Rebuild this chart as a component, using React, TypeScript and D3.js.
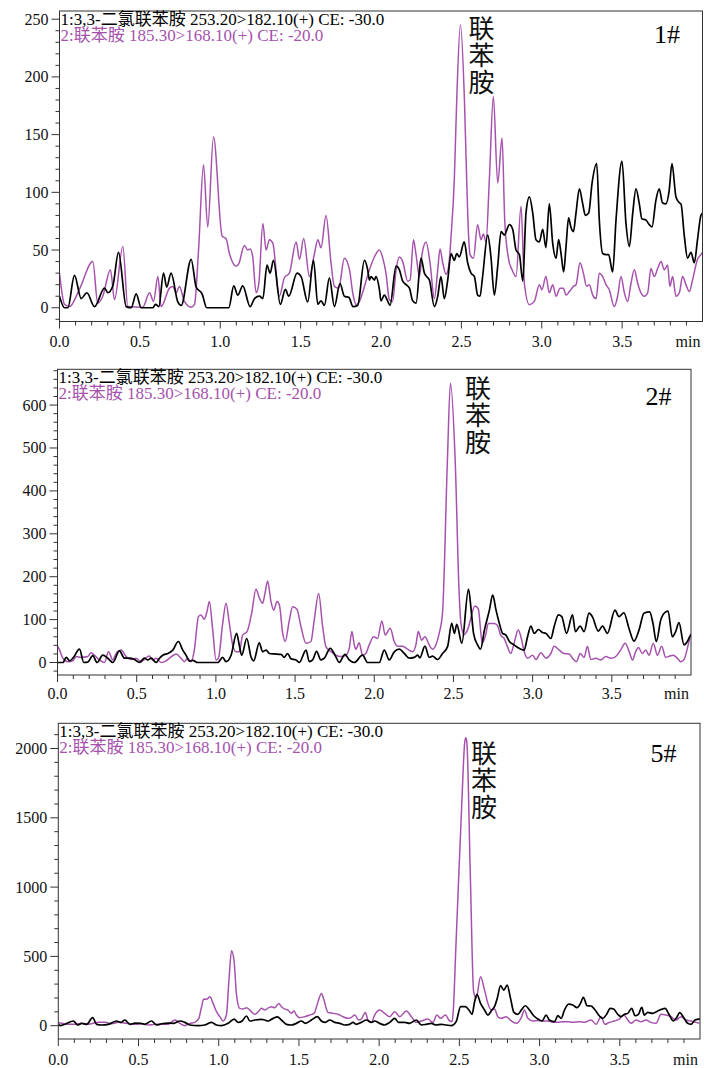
import React from "react";
import * as d3 from "d3";

type Pt = [number, number];

// Retention-time axis
const timeTicks = [0, 0.5, 1, 1.5, 2, 2.5, 3, 3.5];
const timeTickLabels = ["0.0", "0.5", "1.0", "1.5", "2.0", "2.5", "3.0", "3.5"];

// Intensity ticks per chromatogram
const p1YTicks = [0, 50, 100, 150, 200, 250];
const p2YTicks = [0, 100, 200, 300, 400, 500, 600];
const p3YTicks = [0, 500, 1000, 1500, 2000];

const legendBlack = "1:3,3-二氯联苯胺 253.20>182.10(+) CE: -30.0";
const legendPurple = "2:联苯胺 185.30>168.10(+) CE: -20.0";
const peakName = "联苯胺";
const sampleTags = ["1#", "2#", "5#"];

// Sample 1# — trace 1 (3,3'-dichlorobenzidine), [min, intensity]
const p1Black: Pt[] = [
  [0.0, 10], [0.031, 0], [0.052, 0], [0.093, 28], [0.135, 8], [0.17, 13], [0.218, 1], [0.28, 17], [0.301, 13],
  [0.332, 19], [0.367, 48], [0.415, 1], [0.446, 0], [0.477, 12], [0.508, 0], [0.58, 0], [0.597, 3], [0.618, 1],
  [0.647, 30], [0.667, 18], [0.694, 30], [0.736, 5], [0.757, 2], [0.819, 42], [0.85, 18], [0.887, 12], [0.916, 0],
  [1.053, 0], [1.084, 19], [1.109, 11], [1.14, 19], [1.186, 1], [1.213, 8], [1.244, 10], [1.265, 8], [1.291, 37],
  [1.31, 30], [1.331, 41], [1.374, 3], [1.405, 16], [1.426, 10], [1.478, 30], [1.503, 27], [1.544, 5], [1.58, 41],
  [1.607, 3], [1.627, 6], [1.648, 2], [1.679, 26], [1.71, 1], [1.745, 21], [1.772, 10], [1.8, 9], [1.826, 1],
  [1.855, 2], [1.897, 41], [1.917, 33], [1.928, 24], [1.938, 27], [1.959, 24], [1.969, 27], [1.99, 16], [2.0, 6],
  [2.021, 11], [2.041, 6], [2.056, 2], [2.094, 36], [2.114, 33], [2.135, 23], [2.156, 20], [2.177, 17], [2.197, 6],
  [2.218, 4], [2.249, 43], [2.27, 30], [2.284, 27], [2.301, 24], [2.332, 1], [2.353, 10], [2.373, 27], [2.394, 8],
  [2.415, 24], [2.436, 47], [2.456, 41], [2.471, 47], [2.487, 44], [2.518, 57], [2.539, 39], [2.56, 30], [2.581, 27],
  [2.601, 11], [2.616, 10], [2.632, 27], [2.664, 63], [2.684, 44], [2.705, 11], [2.726, 36], [2.747, 66], [2.767, 63],
  [2.799, 72], [2.819, 68], [2.84, 50], [2.861, 46], [2.882, 23], [2.902, 82], [2.923, 96], [2.944, 82], [2.964, 59],
  [2.985, 57], [3.006, 68], [3.026, 52], [3.047, 90], [3.068, 56], [3.089, 43], [3.105, 59], [3.12, 47], [3.136, 31],
  [3.151, 53], [3.167, 78], [3.181, 70], [3.197, 66], [3.213, 82], [3.234, 103], [3.255, 90], [3.271, 80], [3.292, 82],
  [3.313, 108], [3.342, 125], [3.358, 76], [3.379, 47], [3.4, 46], [3.416, 46], [3.441, 31], [3.462, 76], [3.499, 127],
  [3.524, 73], [3.545, 53], [3.566, 82], [3.586, 103], [3.607, 90], [3.623, 77], [3.648, 76], [3.669, 72], [3.686, 70],
  [3.71, 93], [3.731, 103], [3.751, 91], [3.772, 90], [3.793, 102], [3.81, 125], [3.835, 96], [3.856, 91], [3.866, 90],
  [3.887, 62], [3.907, 43], [3.928, 48], [3.949, 39], [3.969, 59], [3.99, 80], [4.0, 82],
];

// Sample 1# — trace 2 (benzidine)
const p1Purple: Pt[] = [
  [0.0, 30], [0.031, 3], [0.062, 1], [0.124, 16], [0.207, 40], [0.238, 4], [0.269, 10], [0.317, 33], [0.342, 7],
  [0.394, 53], [0.425, 1], [0.518, 0.5], [0.56, 13], [0.585, 5.5], [0.612, 27], [0.632, 1], [0.684, 17], [0.705, 18.5],
  [0.726, 13], [0.746, 18.5], [0.777, 5.5], [0.819, 0.5], [0.84, 3], [0.865, 50], [0.896, 124], [0.922, 70],
  [0.958, 148], [1.012, 62], [1.036, 60], [1.057, 47], [1.078, 39], [1.099, 36], [1.115, 38], [1.15, 54], [1.171, 50],
  [1.186, 51], [1.202, 44], [1.223, 13], [1.24, 21], [1.265, 73], [1.285, 50], [1.306, 59], [1.327, 56], [1.368, 10],
  [1.399, 26], [1.43, 30], [1.472, 57], [1.493, 42], [1.519, 60], [1.555, 27], [1.586, 47], [1.607, 59], [1.627, 52],
  [1.658, 80], [1.689, 39], [1.71, 18.5], [1.737, 17], [1.772, 43], [1.804, 33], [1.824, 13], [1.845, 2.6],
  [1.866, 5.5], [1.897, 18.5], [1.928, 33], [1.959, 44], [1.99, 50], [2.011, 43], [2.031, 30], [2.052, 7], [2.072, 5.5],
  [2.094, 33], [2.114, 44], [2.135, 40], [2.166, 23], [2.181, 24], [2.202, 59], [2.218, 46], [2.239, 27], [2.256, 47],
  [2.28, 57], [2.305, 39], [2.332, 8], [2.353, 33], [2.367, 51], [2.384, 39], [2.405, 29], [2.421, 36], [2.436, 62],
  [2.456, 111], [2.471, 180], [2.494, 245], [2.519, 180], [2.533, 111], [2.545, 62], [2.554, 46], [2.575, 43],
  [2.601, 72], [2.622, 59], [2.637, 64], [2.653, 57], [2.674, 111], [2.699, 183], [2.726, 108], [2.753, 147],
  [2.77, 75], [2.794, 42], [2.815, 33], [2.84, 27], [2.871, 88], [2.892, 21], [2.923, 2.6], [2.954, 5.5], [2.985, 20],
  [3.001, 15.6], [3.026, 27], [3.047, 13], [3.068, 20], [3.089, 10], [3.114, 17], [3.134, 17], [3.151, 11], [3.172, 14],
  [3.197, 18.5], [3.213, 20], [3.238, 39], [3.259, 30], [3.279, 18.5], [3.296, 20], [3.317, 11], [3.338, 8], [3.358, 30],
  [3.379, 27], [3.4, 20], [3.42, 15.6], [3.451, 1], [3.472, 10], [3.493, 27], [3.514, 13], [3.534, 5.5], [3.555, 21],
  [3.576, 33], [3.597, 21], [3.617, 13], [3.638, 10], [3.659, 13], [3.679, 34], [3.7, 27], [3.721, 34], [3.742, 40],
  [3.762, 33], [3.783, 37], [3.797, 18.5], [3.814, 27], [3.835, 10], [3.856, 13], [3.876, 27], [3.897, 20], [3.918, 14],
  [3.938, 24], [3.969, 42], [3.99, 46], [4.0, 48],
];

// Sample 2# — trace 1
const p2Black: Pt[] = [
  [0.0, 0], [0.035, 0], [0.055, 12], [0.076, 4], [0.097, 10], [0.139, 31], [0.166, 0], [0.191, 1], [0.223, 16],
  [0.25, 0], [0.286, 17], [0.318, 10], [0.349, 0], [0.391, 27], [0.423, 10], [0.454, 10], [0.486, 7], [0.517, 0],
  [0.549, 10], [0.57, 6], [0.591, 10], [0.623, 0], [0.644, 10], [0.665, 17], [0.696, 21], [0.728, 29], [0.763, 49],
  [0.791, 29], [0.812, 17], [0.833, 3], [0.854, 5], [0.885, 0], [1.012, 0], [1.043, 12], [1.064, 2], [1.096, 17],
  [1.131, 68], [1.148, 40], [1.163, 17], [1.195, 56], [1.222, 13], [1.239, 4], [1.274, 46], [1.295, 25], [1.317, 29],
  [1.338, 21], [1.369, 20], [1.411, 19], [1.432, 12], [1.453, 21], [1.474, 9], [1.506, 6], [1.527, 0], [1.569, 29],
  [1.59, 2], [1.611, 6], [1.636, 26], [1.663, 6], [1.685, 10], [1.722, 33], [1.758, 13], [1.779, 0], [1.815, 19],
  [1.842, 6], [1.874, 0], [1.926, 17], [1.958, 0], [2.032, 0], [2.063, 29], [2.095, 6], [2.126, 25], [2.158, 31],
  [2.19, 21], [2.221, 10], [2.253, 12], [2.274, 17], [2.288, 11], [2.32, 38], [2.347, 12], [2.368, 15], [2.4, 7],
  [2.431, 21], [2.463, 37], [2.489, 91], [2.506, 68], [2.521, 89], [2.553, 45], [2.595, 171], [2.612, 122],
  [2.627, 68], [2.654, 40], [2.671, 31], [2.696, 76], [2.727, 122], [2.748, 157], [2.769, 122], [2.79, 91], [2.81, 68],
  [2.831, 64], [2.853, 49], [2.883, 41], [2.915, 33], [2.946, 29], [2.968, 60], [2.989, 85], [3.01, 68], [3.037, 77],
  [3.062, 70], [3.083, 68], [3.115, 56], [3.136, 84], [3.163, 111], [3.184, 107], [3.214, 68], [3.252, 111], [3.27, 72],
  [3.3, 85], [3.325, 72], [3.356, 115], [3.377, 107], [3.415, 73], [3.441, 85], [3.472, 68], [3.52, 122], [3.545, 107],
  [3.576, 116], [3.608, 80], [3.64, 50], [3.672, 76], [3.703, 115], [3.739, 118], [3.76, 91], [3.781, 49], [3.809, 99],
  [3.84, 118], [3.855, 120], [3.882, 60], [3.903, 72], [3.924, 93], [3.956, 41], [3.977, 49], [3.992, 60], [4.0, 65],
];

// Sample 2# — trace 2
const p2Purple: Pt[] = [
  [0.0, 39], [0.013, 29], [0.034, 10], [0.065, 2], [0.097, 4], [0.118, 14], [0.149, 12], [0.191, 14], [0.212, 23],
  [0.233, 17], [0.265, 6], [0.297, 0], [0.322, 25], [0.349, 6], [0.37, 21], [0.402, 29], [0.433, 14], [0.465, 7],
  [0.496, 10], [0.528, 2], [0.559, 11], [0.58, 15], [0.601, 6], [0.623, 10], [0.654, 0], [0.686, 4], [0.717, 13],
  [0.749, 20], [0.78, 10], [0.801, 2], [0.822, 10], [0.843, 2], [0.864, 29], [0.89, 107], [0.906, 111], [0.927, 101],
  [0.944, 119], [0.959, 142], [0.98, 76], [1.001, 6], [1.016, 10], [1.043, 91], [1.064, 138], [1.085, 91], [1.106, 41],
  [1.127, 25], [1.148, 25], [1.169, 64], [1.197, 72], [1.226, 115], [1.253, 171], [1.275, 150], [1.295, 138],
  [1.31, 161], [1.327, 190], [1.348, 142], [1.365, 122], [1.386, 142], [1.401, 134], [1.422, 68], [1.438, 49],
  [1.464, 99], [1.485, 130], [1.512, 124], [1.537, 84], [1.569, 45], [1.6, 49], [1.621, 99], [1.649, 161], [1.674, 84],
  [1.695, 37], [1.727, 25], [1.758, 17], [1.79, 14], [1.821, 17], [1.842, 33], [1.859, 72], [1.874, 41], [1.884, 31],
  [1.905, 46], [1.926, 17], [1.947, 21], [1.968, 41], [1.996, 60], [2.021, 56], [2.048, 97], [2.069, 64], [2.101, 80],
  [2.126, 49], [2.147, 38], [2.179, 38], [2.21, 31], [2.242, 25], [2.263, 41], [2.278, 72], [2.299, 52], [2.32, 60],
  [2.347, 41], [2.368, 31], [2.389, 41], [2.41, 68], [2.431, 115], [2.462, 472], [2.481, 651], [2.511, 472],
  [2.536, 162], [2.547, 92], [2.568, 65], [2.589, 76], [2.636, 132], [2.657, 125], [2.682, 45], [2.703, 64],
  [2.72, 91], [2.756, 91], [2.777, 87], [2.798, 64], [2.82, 56], [2.841, 37], [2.862, 21], [2.883, 45], [2.909, 76],
  [2.926, 60], [2.947, 25], [2.968, 10], [3.0, 17], [3.021, 7], [3.052, 23], [3.084, 10], [3.115, 21], [3.136, 38],
  [3.168, 29], [3.199, 21], [3.231, 20], [3.252, 10], [3.277, 2], [3.3, 21], [3.325, 12], [3.346, 38], [3.367, 7],
  [3.399, 10], [3.431, 6], [3.462, 14], [3.494, 10], [3.525, 14], [3.556, 29], [3.584, 45], [3.61, 25], [3.631, 6],
  [3.65, 25], [3.668, 35], [3.693, 21], [3.714, 29], [3.735, 17], [3.762, 45], [3.788, 17], [3.815, 38], [3.84, 12],
  [3.866, 15], [3.887, 17], [3.914, 10], [3.935, 2], [3.956, 7], [3.977, 33], [3.998, 68],
];

// Sample 5# — trace 1
const p3Black: Pt[] = [
  [0.0, 17], [0.011, 0], [0.041, 10], [0.094, 34], [0.121, 5], [0.146, 17], [0.177, 10], [0.214, 58], [0.239, 10],
  [0.27, 5], [0.312, 10], [0.363, 34], [0.39, 24], [0.415, 41], [0.447, 10], [0.478, 19], [0.515, 17], [0.54, 10],
  [0.581, 34], [0.613, 5], [0.644, 14], [0.685, 19], [0.716, 17], [0.758, 34], [0.789, 24], [0.82, 5], [0.872, 0],
  [0.913, 5], [0.955, 24], [0.986, 5], [1.017, 0], [1.059, 17], [1.096, 48], [1.121, 24], [1.146, 34], [1.173, 70],
  [1.194, 34], [1.225, 41], [1.266, 46], [1.287, 41], [1.308, 34], [1.339, 53], [1.366, 63], [1.391, 41], [1.422, 10],
  [1.453, 5], [1.484, 17], [1.515, 34], [1.54, 17], [1.578, 41], [1.615, 65], [1.64, 34], [1.665, 24], [1.692, 41],
  [1.723, 24], [1.754, 17], [1.785, 5], [1.816, 10], [1.837, 24], [1.858, 10], [1.889, 24], [1.92, 41], [1.952, 24],
  [1.972, 34], [2.003, 17], [2.034, 5], [2.066, 24], [2.097, 53], [2.121, 24], [2.159, 24], [2.19, 17], [2.232, 41],
  [2.263, 5], [2.294, 10], [2.325, 17], [2.356, 5], [2.387, 10], [2.418, 5], [2.45, 0], [2.48, 29], [2.508, 137],
  [2.537, 137], [2.56, 113], [2.579, 82], [2.595, 173], [2.61, 226], [2.632, 161], [2.657, 113], [2.678, 77],
  [2.703, 113], [2.719, 137], [2.736, 197], [2.757, 289], [2.777, 257], [2.798, 293], [2.819, 197], [2.84, 96],
  [2.865, 82], [2.886, 113], [2.911, 144], [2.937, 113], [2.965, 70], [2.989, 48], [3.016, 34], [3.041, 77],
  [3.061, 41], [3.093, 29], [3.114, 72], [3.135, 53], [3.155, 113], [3.182, 156], [3.207, 149], [3.234, 130],
  [3.255, 161], [3.273, 204], [3.296, 144], [3.321, 142], [3.346, 113], [3.373, 70], [3.393, 53], [3.418, 82],
  [3.44, 125], [3.462, 120], [3.487, 82], [3.508, 65], [3.529, 82], [3.55, 89], [3.574, 125], [3.595, 72], [3.616, 82],
  [3.637, 132], [3.653, 77], [3.674, 96], [3.705, 89], [3.737, 106], [3.782, 125], [3.809, 77], [3.833, 34],
  [3.854, 58], [3.874, 94], [3.895, 65], [3.923, 17], [3.944, 10], [3.969, 41], [3.996, 48], [4.0, 48],
];

// Sample 5# — trace 2
const p3Purple: Pt[] = [
  [0.0, 24], [0.021, 17], [0.062, 10], [0.104, 10], [0.145, 17], [0.187, 10], [0.249, 24], [0.291, 24], [0.332, 14],
  [0.374, 24], [0.426, 17], [0.478, 10], [0.519, 14], [0.561, 5], [0.602, 10], [0.644, 10], [0.685, 10], [0.727, 41],
  [0.758, 17], [0.789, 0], [0.82, 17], [0.851, 24], [0.876, 53], [0.893, 137], [0.907, 192], [0.924, 190],
  [0.945, 209], [0.965, 161], [0.986, 101], [1.007, 65], [1.027, 34], [1.048, 77], [1.063, 317], [1.08, 541],
  [1.096, 462], [1.111, 221], [1.131, 125], [1.152, 120], [1.173, 130], [1.204, 101], [1.225, 82], [1.25, 106],
  [1.266, 125], [1.287, 113], [1.312, 130], [1.329, 137], [1.349, 130], [1.374, 161], [1.391, 137], [1.412, 120],
  [1.432, 113], [1.453, 89], [1.47, 106], [1.484, 77], [1.505, 58], [1.536, 65], [1.567, 77], [1.594, 89], [1.619, 173],
  [1.64, 233], [1.656, 185], [1.681, 96], [1.713, 89], [1.744, 82], [1.775, 65], [1.806, 53], [1.827, 60], [1.848, 77],
  [1.872, 41], [1.889, 48], [1.914, 96], [1.93, 41], [1.952, 24], [1.972, 77], [2.003, 113], [2.034, 89], [2.066, 65],
  [2.097, 101], [2.128, 65], [2.169, 106], [2.201, 65], [2.232, 24], [2.263, 34], [2.304, 48], [2.335, 24], [2.36, 77],
  [2.383, 53], [2.413, 77], [2.44, 34], [2.455, 30], [2.463, 128], [2.478, 560], [2.497, 1100], [2.515, 1600],
  [2.533, 2040], [2.54, 2078], [2.547, 2040], [2.568, 1100], [2.589, 245], [2.605, 200], [2.632, 354], [2.657, 257],
  [2.678, 161], [2.699, 113], [2.719, 120], [2.74, 65], [2.761, 53], [2.792, 65], [2.823, 34], [2.855, 17], [2.886, 58],
  [2.906, 113], [2.927, 53], [2.958, 34], [2.989, 38], [3.02, 34], [3.052, 34], [3.083, 24], [3.114, 24], [3.145, 29],
  [3.176, 29], [3.207, 24], [3.249, 29], [3.28, 24], [3.321, 41], [3.352, 10], [3.383, 65], [3.408, 10], [3.435, 24],
  [3.466, 34], [3.497, 48], [3.525, 77], [3.55, 41], [3.57, 17], [3.601, 41], [3.633, 29], [3.663, 41], [3.694, 24],
  [3.726, 17], [3.757, 82], [3.788, 77], [3.819, 65], [3.85, 41], [3.882, 65], [3.913, 41], [3.944, 34], [3.975, 24],
  [3.996, 17],
];

const PURPLE = "#a652ad";
const SERIF = "Liberation Serif, DejaVu Serif, Noto Sans CJK SC, serif";
const CJK = "Noto Sans CJK SC, Noto Sans CJK JP, sans-serif";

type PanelSpec = {
  black: Pt[];
  purple: Pt[];
  yTicks: number[];
  yMinorStep: number;
  yDomain: [number, number];
  left: number;
  top: number;
  right: number;
  bottom: number;
  xLabelDy: number;
  tag: string;
  tagX: number;
  tagY: number;
  nameX: number;
  nameTop: number;
};

const panels: PanelSpec[] = [
  {
    black: p1Black, purple: p1Purple, yTicks: p1YTicks, yMinorStep: 10, yDomain: [-11.9, 257.1],
    left: 59.5, top: 11, right: 702.5, bottom: 321.5, xLabelDy: 25,
    tag: sampleTags[0], tagX: 680, tagY: 43, nameX: 481.5, nameTop: 15,
  },
  {
    black: p2Black, purple: p2Purple, yTicks: p2YTicks, yMinorStep: 20, yDomain: [-29.1, 683.4],
    left: 57.5, top: 369.3, right: 691, bottom: 675, xLabelDy: 23.5,
    tag: sampleTags[1], tagX: 671.5, tagY: 405, nameX: 478, nameTop: 375.5,
  },
  {
    black: p3Black, purple: p3Purple, yTicks: p3YTicks, yMinorStep: 100, yDomain: [-96, 2182],
    left: 58.3, top: 723.3, right: 700, bottom: 1039, xLabelDy: 25.5,
    tag: sampleTags[2], tagX: 676.5, tagY: 761.7, nameX: 484, nameTop: 740,
  },
];

function Chromatogram({ spec, index }: { spec: PanelSpec; index: number }) {
  const x = d3.scaleLinear().domain([0, 4]).range([spec.left, spec.right]);
  const y = d3.scaleLinear().domain(spec.yDomain).range([spec.bottom, spec.top]);
  const line = d3
    .line<Pt>()
    .x((d) => x(d[0]))
    .y((d) => y(d[1]))
    .curve(d3.curveMonotoneX);

  const minorX = d3.range(0, 40).map((i) => i / 10);
  const yStart = Math.ceil(spec.yDomain[0] / spec.yMinorStep) * spec.yMinorStep;
  const minorY = d3
    .range(yStart, spec.yDomain[1], spec.yMinorStep)
    .filter((v) => !spec.yTicks.includes(v));
  const clipId = `plot-clip-${index}`;

  return (
    <g>
      <defs>
        <clipPath id={clipId}>
          <rect x={spec.left} y={spec.top} width={spec.right - spec.left} height={spec.bottom - spec.top} />
        </clipPath>
      </defs>

      {/* traces */}
      <g clipPath={`url(#${clipId})`} fill="none" strokeLinejoin="round">
        <path d={line(spec.purple) ?? ""} stroke={PURPLE} strokeWidth={1.5} />
        <path d={line(spec.black) ?? ""} stroke="#000" strokeWidth={1.7} />
      </g>

      {/* frame */}
      <rect
        x={spec.left}
        y={spec.top}
        width={spec.right - spec.left}
        height={spec.bottom - spec.top}
        fill="none"
        stroke="#333"
        strokeWidth={1}
      />

      {/* ticks */}
      <g stroke="#333" strokeWidth={1}>
        {minorX.map((t) => {
          const major = timeTicks.some((m) => Math.abs(m - t) < 1e-6);
          const px = x(t);
          return <line key={`xt${t}`} x1={px} x2={px} y1={spec.bottom} y2={spec.bottom + (major ? 7 : 4)} />;
        })}
        {minorY.map((v) => (
          <line key={`ymn${v}`} x1={spec.left - 4} x2={spec.left} y1={y(v)} y2={y(v)} />
        ))}
        {spec.yTicks.map((v) => (
          <line key={`ymj${v}`} x1={spec.left - 8} x2={spec.left} y1={y(v)} y2={y(v)} />
        ))}
      </g>

      <g style={{ fontFamily: SERIF }} fontSize={16} fill="#111">
        {timeTicks.map((t, i) => (
          <text key={`xl${t}`} x={x(t)} y={spec.bottom + spec.xLabelDy} textAnchor="middle">
            {timeTickLabels[i]}
          </text>
        ))}
        <text x={spec.right - 2} y={spec.bottom + spec.xLabelDy} textAnchor="end">
          min
        </text>
        {spec.yTicks.map((v) => (
          <text key={`yl${v}`} x={spec.left - 11} y={y(v) + 5.5} textAnchor="end">
            {String(v)}
          </text>
        ))}
      </g>

      {/* channel legend */}
      <g style={{ fontFamily: SERIF }} fontSize={17}>
        <text x={spec.left + 1} y={spec.top + 14} fill="#000">
          {legendBlack}
        </text>
        <text x={spec.left + 1} y={spec.top + 29.5} fill={PURPLE}>
          {legendPurple}
        </text>
      </g>

      {/* sample tag */}
      <text
        x={spec.tagX}
        y={spec.tagY}
        style={{ fontFamily: SERIF }}
        fontSize={26}
        textAnchor="end"
        fill="#000"
      >
        {spec.tag}
      </text>

      {/* peak annotation, set vertically */}
      <text
        x={spec.nameX}
        y={spec.nameTop}
        style={{ fontFamily: CJK, writingMode: "vertical-rl", letterSpacing: "1px" }}
        fontSize={26}
        fill="#111"
      >
        {peakName}
      </text>
    </g>
  );
}

export default function App() {
  return (
    <svg
      width={704}
      height={1068}
      viewBox="0 0 704 1068"
      style={{ position: "absolute", left: 0, top: 0, background: "#fff" }}
    >
      <rect x={0} y={0} width={704} height={1068} fill="#fff" />
      {panels.map((p, i) => (
        <Chromatogram key={i} spec={p} index={i} />
      ))}
    </svg>
  );
}
